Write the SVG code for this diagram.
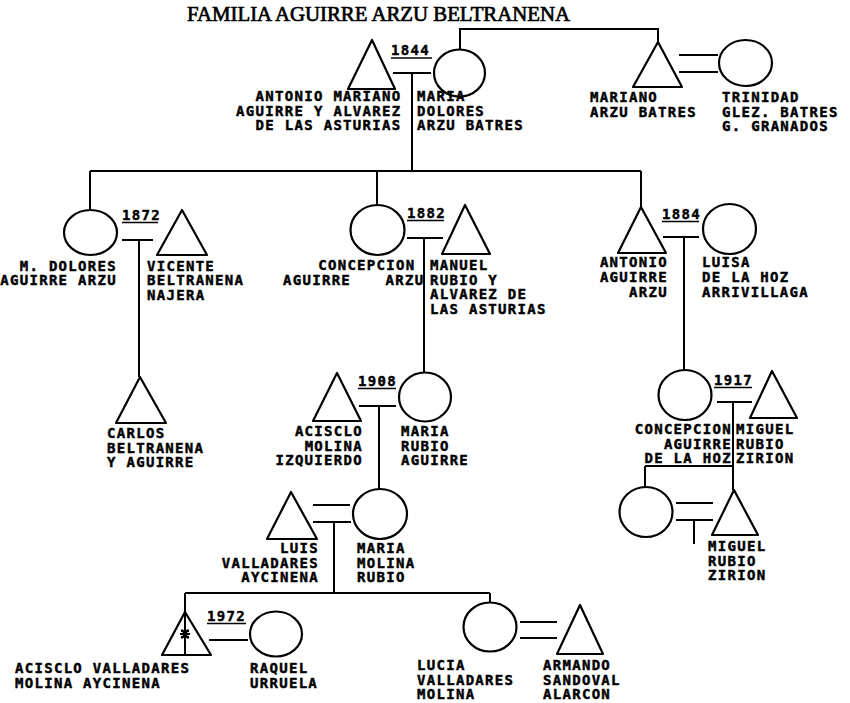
<svg xmlns="http://www.w3.org/2000/svg" width="850" height="703" viewBox="0 0 850 703">
<style>
.s{fill:none;stroke:#000;stroke-width:2.2;stroke-linejoin:round}
.c{fill:none;stroke:#000;stroke-width:2}
.u{stroke:#000;stroke-width:1.5}
.t{font-family:"DejaVu Sans Mono","Liberation Mono",monospace;font-weight:bold;font-size:14px;letter-spacing:1.3px;fill:#000;stroke:#000;stroke-width:0.45}
.e{text-anchor:end}
.title{font-family:"Liberation Serif","Times New Roman",serif;font-size:21px;fill:#000;stroke:#000;stroke-width:0.7}
</style>
<rect width="850" height="703" fill="#fff"/>
<text class="title" x="187" y="21" textLength="383" lengthAdjust="spacingAndGlyphs">FAMILIA AGUIRRE ARZU BELTRANENA</text>

<g id="connectors" class="c">
<polyline points="460,50 460,29 658,29 658,42"/>
<line x1="393" y1="73" x2="431" y2="73"/>
<line x1="412" y1="73" x2="412" y2="171"/>
<line x1="90" y1="171" x2="641" y2="171"/>
<line x1="90" y1="171" x2="90" y2="210"/>
<line x1="377" y1="171" x2="377" y2="205"/>
<line x1="641" y1="171" x2="641" y2="207"/>
<line x1="679" y1="55" x2="718" y2="55"/>
<line x1="679" y1="72" x2="718" y2="72"/>
<line x1="122" y1="240" x2="153" y2="240"/>
<line x1="139" y1="240" x2="139" y2="377"/>
<line x1="407" y1="238" x2="443" y2="238"/>
<line x1="424" y1="238" x2="424" y2="373"/>
<line x1="663" y1="237" x2="699" y2="237"/>
<line x1="684" y1="237" x2="684" y2="370"/>
<line x1="359" y1="406" x2="396" y2="406"/>
<line x1="379" y1="406" x2="379" y2="489"/>
<line x1="313" y1="505" x2="350" y2="505"/>
<line x1="313" y1="522" x2="351" y2="522"/>
<line x1="334" y1="522" x2="334" y2="593"/>
<line x1="185" y1="593" x2="490" y2="593"/>
<line x1="185" y1="593" x2="185" y2="655"/>
<line x1="490" y1="593" x2="490" y2="603"/>
<line x1="209" y1="640" x2="248" y2="640"/>
<line x1="520" y1="622" x2="557" y2="622"/>
<line x1="520" y1="638" x2="557" y2="638"/>
<line x1="717" y1="402" x2="752" y2="402"/>
<line x1="733" y1="402" x2="733" y2="490"/>
<line x1="645" y1="466" x2="733" y2="466"/>
<line x1="645" y1="466" x2="645" y2="487"/>
<line x1="676" y1="503" x2="713" y2="503"/>
<line x1="676" y1="520" x2="713" y2="520"/>
<line x1="694" y1="520" x2="694" y2="544"/>
</g>

<g id="m1844">
<text class="t" x="391" y="55">1844</text>
<line class="u" x1="391" y1="58" x2="432" y2="58"/>
</g>
<g id="m1872">
<text class="t" x="122" y="220">1872</text>
<line class="u" x1="122" y1="222.5" x2="158" y2="222.5"/>
</g>
<g id="m1882">
<text class="t" x="407" y="218">1882</text>
<line class="u" x1="407" y1="220.5" x2="444" y2="220.5"/>
</g>
<g id="m1884">
<text class="t" x="662" y="219">1884</text>
<line class="u" x1="662" y1="221.5" x2="699" y2="221.5"/>
</g>
<g id="m1908">
<text class="t" x="358" y="386">1908</text>
<line class="u" x1="358" y1="388.5" x2="396" y2="388.5"/>
</g>
<g id="m1917">
<text class="t" x="714" y="385">1917</text>
<line class="u" x1="714" y1="387.5" x2="752" y2="387.5"/>
</g>
<g id="m1972">
<text class="t" x="207" y="621">1972</text>
<line class="u" x1="207" y1="623.5" x2="246" y2="623.5"/>
</g>

<g id="antonio-mariano">
<polygon class="s" points="372,40 348,89 395,89"/>
<text class="t e" x="401.5" y="101">ANTONIO MARIANO</text>
<text class="t e" x="401.5" y="115.5">AGUIRRE Y ALVAREZ</text>
<text class="t e" x="401.5" y="130">DE LAS ASTURIAS</text>
</g>
<g id="maria-dolores">
<ellipse class="s" cx="459.5" cy="73" rx="25.5" ry="23.5"/>
<text class="t" x="417" y="101">MARIA</text>
<text class="t" x="417" y="115.5">DOLORES</text>
<text class="t" x="417" y="130">ARZU BATRES</text>
</g>
<g id="mariano">
<polygon class="s" points="658,42 633,87 682,87"/>
<text class="t" x="590" y="102">MARIANO</text>
<text class="t" x="590" y="116.5">ARZU BATRES</text>
</g>
<g id="trinidad">
<ellipse class="s" cx="745.5" cy="63" rx="26.5" ry="23"/>
<text class="t" x="722" y="102">TRINIDAD</text>
<text class="t" x="722" y="116.5">GLEZ. BATRES</text>
<text class="t" x="722" y="131">G. GRANADOS</text>
</g>

<g id="m-dolores">
<ellipse class="s" cx="90.5" cy="232.5" rx="26.5" ry="22.5"/>
<text class="t e" x="117" y="270.5">M. DOLORES</text>
<text class="t e" x="117" y="285">AGUIRRE ARZU</text>
</g>
<g id="vicente">
<polygon class="s" points="182,210 157,255 207,255"/>
<text class="t" x="147" y="270.5">VICENTE</text>
<text class="t" x="147" y="285">BELTRANENA</text>
<text class="t" x="147" y="299.5">NAJERA</text>
</g>
<g id="carlos">
<polygon class="s" points="140,377 116,423 166,423"/>
<text class="t" x="107" y="438">CARLOS</text>
<text class="t" x="107" y="452.5">BELTRANENA</text>
<text class="t" x="107" y="467">Y AGUIRRE</text>
</g>

<g id="concepcion-aguirre">
<ellipse class="s" cx="377.5" cy="230" rx="27" ry="25"/>
<text class="t e" x="415.5" y="270">CONCEPCION</text>
<text class="t" x="283" y="284.5">AGUIRRE</text>
<text class="t e" x="424.5" y="284.5">ARZU</text>
</g>
<g id="manuel">
<polygon class="s" points="465,205 442,254 490,254"/>
<text class="t" x="430" y="270">MANUEL</text>
<text class="t" x="430" y="284.5">RUBIO Y</text>
<text class="t" x="430" y="299">ALVAREZ DE</text>
<text class="t" x="430" y="313.5">LAS ASTURIAS</text>
</g>

<g id="antonio-aguirre">
<polygon class="s" points="641,207 618,253 666,253"/>
<text class="t e" x="668" y="266.5">ANTONIO</text>
<text class="t e" x="668" y="281.5">AGUIRRE</text>
<text class="t e" x="668" y="296.5">ARZU</text>
</g>
<g id="luisa">
<ellipse class="s" cx="729.5" cy="229" rx="26.5" ry="25"/>
<text class="t" x="702" y="266.5">LUISA</text>
<text class="t" x="702" y="281.5">DE LA HOZ</text>
<text class="t" x="702" y="296.5">ARRIVILLAGA</text>
</g>

<g id="acisclo-molina">
<polygon class="s" points="337,373 313,421 361,421"/>
<text class="t e" x="363" y="436">ACISCLO</text>
<text class="t e" x="363" y="450.5">MOLINA</text>
<text class="t e" x="363" y="465">IZQUIERDO</text>
</g>
<g id="maria-rubio">
<ellipse class="s" cx="425" cy="397" rx="26" ry="24.5"/>
<text class="t" x="401" y="436">MARIA</text>
<text class="t" x="401" y="450.5">RUBIO</text>
<text class="t" x="401" y="465">AGUIRRE</text>
</g>

<g id="concepcion-aguirre-hoz">
<ellipse class="s" cx="685" cy="395" rx="26.5" ry="25"/>
<text class="t e" x="732" y="434">CONCEPCION</text>
<text class="t e" x="732" y="448.5">AGUIRRE</text>
<text class="t e" x="732" y="463">DE LA HOZ</text>
</g>
<g id="miguel-rubio">
<polygon class="s" points="772,371 750,418 797,418"/>
<text class="t" x="736" y="434">MIGUEL</text>
<text class="t" x="736" y="448.5">RUBIO</text>
<text class="t" x="736" y="463">ZIRION</text>
</g>
<g id="daughter-1917">
<ellipse class="s" cx="646" cy="512" rx="26.5" ry="25"/>
</g>
<g id="miguel-rubio-zirion">
<polygon class="s" points="734,490 712,535 758,535"/>
<text class="t" x="708" y="551">MIGUEL</text>
<text class="t" x="708" y="565.5">RUBIO</text>
<text class="t" x="708" y="580">ZIRION</text>
</g>

<g id="luis-valladares">
<polygon class="s" points="291,492 267,539 317,539"/>
<text class="t e" x="319" y="553">LUIS</text>
<text class="t e" x="319" y="567.5">VALLADARES</text>
<text class="t e" x="319" y="582">AYCINENA</text>
</g>
<g id="maria-molina">
<ellipse class="s" cx="380" cy="514" rx="27" ry="25"/>
<text class="t" x="357" y="553">MARIA</text>
<text class="t" x="357" y="567.5">MOLINA</text>
<text class="t" x="357" y="582">RUBIO</text>
</g>

<g id="acisclo-valladares">
<polygon class="s" points="185,612 162,655 211,655"/>
<g class="c" stroke-width="1.6">
<line x1="180" y1="634" x2="190" y2="634"/>
<line x1="181.5" y1="629.5" x2="188.5" y2="638.5"/>
<line x1="188.5" y1="629.5" x2="181.5" y2="638.5"/>
<line x1="181" y1="631" x2="189" y2="631"/>
<line x1="181" y1="637" x2="189" y2="637"/>
</g>
<text class="t" x="15" y="673">ACISCLO VALLADARES</text>
<text class="t" x="15" y="687.5">MOLINA AYCINENA</text>
</g>
<g id="raquel">
<ellipse class="s" cx="276" cy="634" rx="26" ry="22.5"/>
<text class="t" x="250" y="673">RAQUEL</text>
<text class="t" x="250" y="687.5">URRUELA</text>
</g>
<g id="lucia">
<ellipse class="s" cx="490" cy="627" rx="26.5" ry="24.5"/>
<text class="t" x="417" y="670">LUCIA</text>
<text class="t" x="417" y="684.5">VALLADARES</text>
<text class="t" x="417" y="699">MOLINA</text>
</g>
<g id="armando">
<polygon class="s" points="580,605 557,654 603,654"/>
<text class="t" x="543" y="670">ARMANDO</text>
<text class="t" x="543" y="684.5">SANDOVAL</text>
<text class="t" x="543" y="699">ALARCON</text>
</g>
</svg>
